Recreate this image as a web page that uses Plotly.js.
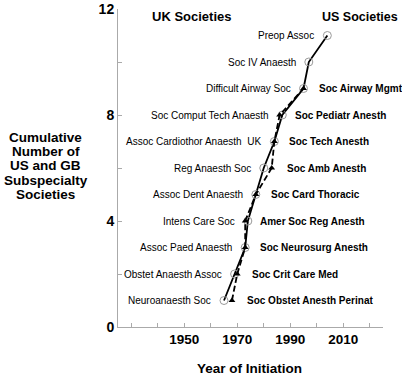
<!DOCTYPE html>
<html>
<head>
<meta charset="utf-8">
<script src="https://cdn.plot.ly/plotly-3.0.1.min.js"></script>
<style>html,body{margin:0;padding:0;background:#fff;}#chart{width:402px;height:376px;}</style>
</head>
<body>
<div id="chart"></div>
<script>
// UK societies (solid line, open circles)
const ukYears = [1965, 1969, 1973, 1974, 1977, 1980, 1984, 1987, 1995, 1997, 2004];
const ukCounts = [1, 2, 3, 4, 5, 6, 7, 8, 9, 10, 11];
const ukNames = ["Neuroanaesth Soc", "Obstet Anaesth Assoc", "Assoc Paed Anaesth", "Intens Care Soc",
  "Assoc Dent Anaesth", "Reg Anaesth Soc", "Assoc Cardiothor Anaesth\u00a0 UK", "Soc Comput Tech Anaesth",
  "Difficult Airway Soc", "Soc IV Anaesth", "Preop Assoc"];

// US societies (dashed line, arrow markers)
const usYears = [1968, 1970, 1973, 1973, 1977, 1983, 1984, 1986, 1995];
const usCounts = [1, 2, 3, 4, 5, 6, 7, 8, 9];
const usNames = ["Soc Obstet Anesth Perinat", "Soc Crit Care Med", "Soc Neurosurg Anesth", "Amer Soc Reg Anesth",
  "Soc Card Thoracic", "Soc Amb Anesth", "Soc Tech Anesth", "Soc Pediatr Anesth", "Soc Airway Mgmt"];

const yTitleLines = ["Cumulative", "Number of", "US and GB", "Subspecialty", "Societies"];
const xTitle = "Year of Initiation";
const groupTitles = ["UK Societies", "US Societies"];

const FONT = "Liberation Sans, Arial, Helvetica, sans-serif";

const traces = [
  {
    x: ukYears, y: ukCounts, type: "scatter", mode: "lines+markers", name: "UK",
    line: {color: "#000", width: 1.8},
    marker: {symbol: "circle-open", size: 8, color: "#9a9a9a", line: {width: 1}},
    hoverinfo: "skip"
  },
  {
    x: usYears, y: usCounts, type: "scatter", mode: "lines+markers", name: "US",
    line: {color: "#000", width: 1.8, dash: "6px,3px"},
    marker: {symbol: "triangle-up", size: 6, color: "#000"},
    hoverinfo: "skip"
  }
];

const annotations = [];
ukYears.forEach((yr, i) => annotations.push({
  x: yr, y: ukCounts[i], xref: "x", yref: "y", text: ukNames[i], showarrow: false,
  xanchor: "right", yanchor: "middle", xshift: -11,
  font: {family: FONT, size: 10, color: "#000"}
}));
usYears.forEach((yr, i) => annotations.push({
  x: yr, y: usCounts[i], xref: "x", yref: "y", text: usNames[i], showarrow: false,
  xanchor: "left", yanchor: "middle", xshift: 13,
  font: {family: FONT, size: 10, color: "#000", weight: "bold"}
}));
annotations.push({
  x: 0.277, y: 0.975, xref: "paper", yref: "paper", text: groupTitles[0], showarrow: false,
  xanchor: "center", yanchor: "middle", font: {family: FONT, size: 13, color: "#000", weight: "bold"}
});
annotations.push({
  x: 0.7725, y: 0.975, xref: "paper", yref: "paper", text: groupTitles[1], showarrow: false,
  xanchor: "left", yanchor: "middle", xshift: -2, borderpad: 0, font: {family: FONT, size: 12.5, color: "#000", weight: "bold"}
});
const yLinePx = [136.7, 151.2, 165.6, 180, 194.4];
yTitleLines.forEach((t, i) => annotations.push({
  x: -0.2717, y: (326.7 - yLinePx[i]) / 318, xref: "paper", yref: "paper", text: t, showarrow: false,
  xanchor: "center", yanchor: "middle", borderpad: 0, borderwidth: 0,
  font: {family: FONT, size: 13.5, color: "#000", weight: "bold"}
}));
annotations.push({
  x: 0.498, y: (326.7 - 368) / 318, xref: "paper", yref: "paper", text: xTitle, showarrow: false,
  xanchor: "center", yanchor: "middle", borderpad: 0, font: {family: FONT, size: 13.5, color: "#000", weight: "bold"}
});

const layout = {
  width: 402, height: 376,
  margin: {l: 118, r: 19, t: 8.5, b: 49.3},
  paper_bgcolor: "#fff", plot_bgcolor: "#fff",
  showlegend: false,
  xaxis: {
    range: [1925, 2025], showgrid: false, zeroline: false,
    showline: true, linecolor: "#aaa", linewidth: 1,
    tickvals: [1950, 1970, 1990, 2010], ticks: "inside", ticklen: 4, tickcolor: "#aaa",
    minor: {dtick: 10, tick0: 1930, ticks: "inside", ticklen: 4, tickcolor: "#aaa"},
    tickfont: {family: FONT, size: 13.5, color: "#000", weight: "bold"},
    fixedrange: true
  },
  yaxis: {
    range: [0, 12], showgrid: false, zeroline: false,
    showline: true, linecolor: "#aaa", linewidth: 1,
    tickvals: [0, 4, 8, 12], ticks: "inside", ticklen: 4, tickcolor: "#aaa",
    minor: {dtick: 2, tick0: 0, ticks: "inside", ticklen: 4, tickcolor: "#aaa"},
    tickfont: {family: FONT, size: 14, color: "#000", weight: "bold"},
    fixedrange: true
  },
  annotations: annotations
};

Plotly.newPlot("chart", traces, layout, {displayModeBar: false, staticPlot: true});
</script>
</body>
</html>
